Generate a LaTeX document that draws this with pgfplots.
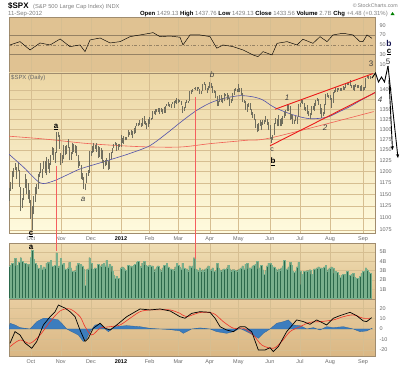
\documentclass[border=0pt]{standalone}
\usepackage{fontspec}
\setmainfont{Liberation Sans}
\usepackage{pgfplots}
\usepackage{pgfplotstable}
\pgfplotsset{compat=1.18}
\usetikzlibrary{arrows.meta}

\definecolor{gridc}{RGB}{214,190,145}
\definecolor{framec}{RGB}{160,140,110}
\definecolor{tickc}{RGB}{105,105,105}
\definecolor{barc}{RGB}{112,110,94}
\definecolor{volc}{RGB}{44,105,75}
\definecolor{volh}{RGB}{120,175,140}
\definecolor{mablue}{RGB}{80,80,170}
\definecolor{mared}{RGB}{240,95,85}
\definecolor{chred}{RGB}{235,25,25}
\definecolor{histc}{RGB}{60,125,190}
\definecolor{sigred}{RGB}{240,50,40}
\definecolor{rsibg}{RGB}{224,194,146}
\definecolor{pxtop}{RGB}{236,214,164}
\definecolor{pxbot}{RGB}{255,251,222}
\definecolor{voltop}{RGB}{240,222,180}
\definecolor{volbot}{RGB}{222,192,142}
\definecolor{mctop}{RGB}{232,205,160}
\definecolor{mcbot}{RGB}{218,183,132}
\definecolor{refl}{RGB}{150,130,100}
\definecolor{vred}{RGB}{245,95,95}

\pgfplotstableread{
i l h v
-15 1136 1163 3.5
-14 1158 1176 3.6
-13 1162 1202 3.8
-12 1189 1209 3.7
-11 1204 1220 4.3
-10 1183 1210 3.5
-9 1201 1220 3.6
-8 1166 1204 3.9
-7 1114 1166 4.4
-6 1121 1141 4.0
-5 1137 1163 3.6
-4 1163 1195 3.8
-3 1150 1184 3.5
-2 1139 1175 3.7
-1 1131 1160 3.4
0 1098 1138 4.4
1 1075 1125 5.2
2 1107 1146 4.2
3 1134 1165 3.8
4 1150 1172 3.6
5 1162 1195 3.3
6 1187 1200 3.2
7 1196 1220 3.6
8 1186 1205 3.2
9 1205 1225 3.4
10 1198 1224 3.3
11 1192 1233 3.8
12 1205 1230 3.9
13 1197 1219 3.7
14 1215 1239 4.1
15 1238 1256 3.5
16 1227 1254 3.4
17 1220 1246 3.6
18 1243 1293 4.9
19 1281 1292 3.4
20 1253 1285 3.5
21 1215 1242 4.3
22 1219 1238 3.7
23 1228 1263 3.8
24 1238 1260 3.2
25 1240 1262 3.0
26 1254 1277 3.3
27 1226 1258 3.9
28 1227 1246 3.3
29 1240 1266 2.9
30 1246 1264 2.8
31 1244 1262 3.0
32 1237 1259 3.5
33 1209 1238 3.8
34 1213 1224 3.6
35 1183 1215 3.7
36 1181 1196 3.5
37 1161 1187 3.2
38 1159 1172 1.4
39 1174 1197 3.1
40 1191 1203 3.2
41 1197 1247 4.4
42 1236 1248 3.8
43 1243 1260 3.2
44 1245 1267 3.1
45 1252 1262 3.3
46 1246 1267 3.1
47 1231 1260 3.7
48 1234 1258 3.3
49 1228 1255 3.5
50 1219 1249 3.7
51 1206 1226 3.8
52 1212 1226 3.5
53 1215 1232 4.1
54 1203 1224 3.4
55 1206 1242 3.7
56 1230 1245 3.5
57 1243 1255 2.9
58 1254 1265 2.5
59 1262 1270 2.2
60 1248 1266 2.4
61 1250 1264 2.2
62 1257 1264 2.0
63 1258 1285 3.3
64 1267 1279 3.4
65 1265 1284 3.3
66 1273 1282 3.1
67 1274 1282 3.0
68 1281 1297 3.6
69 1285 1294 3.4
70 1286 1297 3.5
71 1278 1296 3.3
72 1289 1304 3.6
73 1291 1309 3.7
74 1307 1315 3.9
75 1307 1315 4.0
76 1310 1322 3.5
77 1306 1316 3.4
78 1307 1328 3.8
79 1313 1333 4.0
80 1311 1320 3.6
81 1300 1316 3.3
82 1306 1325 3.5
83 1313 1330 3.6
84 1322 1329 3.5
85 1326 1346 3.5
86 1337 1345 3.0
87 1336 1351 3.2
88 1342 1351 3.4
89 1344 1354 3.5
90 1337 1352 3.2
91 1343 1353 3.0
92 1338 1351 3.3
93 1341 1356 3.6
94 1341 1359 3.5
95 1357 1364 3.8
96 1357 1368 3.4
97 1356 1363 3.2
98 1352 1364 3.2
99 1363 1368 3.0
100 1354 1371 3.1
101 1365 1373 3.4
102 1363 1378 3.8
103 1366 1377 3.6
104 1369 1374 3.4
105 1360 1370 3.2
106 1341 1359 3.8
107 1345 1355 3.3
108 1353 1368 3.2
109 1366 1374 3.2
110 1366 1372 3.0
111 1372 1396 3.5
112 1389 1399 3.4
113 1395 1403 3.5
114 1402 1406 4.4
115 1400 1409 3.2
116 1398 1408 3.1
117 1402 1407 3.0
118 1389 1402 3.3
119 1389 1398 3.0
120 1397 1417 3.1
121 1413 1420 3.0
122 1400 1415 3.2
123 1392 1404 3.3
124 1401 1410 3.5
125 1404 1420 3.0
126 1406 1419 3.1
127 1393 1410 3.3
128 1392 1401 2.9
129 1378 1397 3.0
130 1357 1383 3.8
131 1359 1370 3.3
132 1368 1388 3.1
133 1369 1387 3.0
134 1365 1380 3.1
135 1370 1392 3.2
136 1383 1390 3.0
137 1373 1391 3.3
138 1377 1387 3.6
139 1358 1378 3.2
140 1366 1376 3.0
141 1371 1391 3.1
142 1388 1402 3.1
143 1398 1406 3.0
144 1394 1403 3.0
145 1395 1415 3.1
146 1394 1404 3.2
147 1388 1404 3.3
148 1368 1392 3.5
149 1366 1374 3.2
150 1348 1370 3.7
151 1344 1363 3.8
152 1356 1366 3.2
153 1349 1365 3.3
154 1336 1351 3.3
155 1328 1344 3.5
156 1322 1338 3.6
157 1304 1326 3.7
158 1292 1312 4.0
159 1295 1316 3.2
160 1309 1323 3.3
161 1298 1319 3.6
162 1310 1324 3.1
163 1314 1322 2.6
164 1318 1334 3.0
165 1310 1326 3.5
166 1298 1319 3.8
167 1277 1310 3.8
168 1267 1282 3.6
169 1274 1286 3.3
170 1285 1316 3.4
171 1314 1329 3.2
172 1307 1326 3.0
173 1307 1335 3.2
174 1307 1325 3.1
175 1308 1327 3.3
176 1313 1333 3.5
177 1329 1343 4.1
178 1334 1348 3.0
179 1345 1364 3.2
180 1346 1361 3.4
181 1324 1357 3.9
182 1326 1337 3.6
183 1313 1335 2.9
184 1313 1324 2.8
185 1320 1334 2.9
186 1313 1330 3.4
187 1330 1363 3.9
188 1356 1366 3.0
189 1366 1375 1.5
190 1363 1373 2.6
191 1348 1367 2.9
192 1346 1355 2.8
193 1337 1362 3.0
194 1334 1346 3.0
195 1326 1341 3.1
196 1335 1358 2.6
197 1349 1357 2.6
198 1345 1365 3.2
199 1358 1375 3.2
200 1371 1380 3.3
201 1362 1376 3.4
202 1338 1363 3.3
203 1329 1352 3.3
204 1332 1344 3.2
205 1339 1363 3.4
206 1361 1390 3.6
207 1381 1392 3.0
208 1378 1388 3.2
209 1374 1387 3.3
210 1354 1378 3.4
211 1366 1395 3.3
212 1391 1399 2.7
213 1394 1407 2.9
214 1395 1405 2.8
215 1399 1405 2.5
216 1398 1406 2.3
217 1398 1405 2.5
218 1401 1410 2.6
219 1401 1407 2.5
220 1404 1418 2.6
221 1413 1419 2.9
222 1412 1418 2.1
223 1411 1426 2.5
224 1404 1414 2.6
225 1399 1413 2.7
226 1398 1413 2.3
227 1409 1416 1.9
228 1404 1413 2.2
229 1406 1414 2.1
230 1397 1410 2.4
231 1397 1414 2.7
232 1397 1409 2.9
233 1401 1408 2.8
234 1404 1433 3.3
235 1431 1438 3.1
236 1429 1438 2.8
237 1429 1438 2.7
}\daily

\pgfplotsset{
  panel/.style={
    scale only axis, width=366bp, xmin=-15.2, xmax=240.4, anchor=north west,
    axis line style={draw=framec, line width=0.4pt},
    major tick length=0pt,
    xtick={0,21,42,63,83,103,125,145,167,188,209,232},
    xticklabels={Oct,Nov,Dec,{\textcolor{black}{\textbf{2012}}},Feb,Mar,Apr,May,Jun,Jul,Aug,Sep},
    xmajorgrids, ymajorgrids,
    grid style={draw=gridc, line width=0.35pt},
    yticklabel pos=right,
    tick label style={font=\fontsize{5.5}{6}\selectfont, text=tickc},
    yticklabel style={xshift=1bp},
    /pgf/number format/assume math mode=true,
  },
}

\begin{document}
\begin{tikzpicture}
\useasboundingbox (0,0) rectangle (400bp,-365bp);

% RSI panel
\begin{axis}[panel, at={(9bp,-17bp)}, height=56bp, ymin=-7.8, ymax=107,
  ytick={10,30,50,70,90}, xticklabels={}, ymajorgrids=false,
  axis background/.style={fill=rsibg}]
\draw[refl, line width=0.5pt] (axis cs:-15.2,70) -- (axis cs:240.4,70);
\draw[refl, line width=0.5pt] (axis cs:-15.2,30) -- (axis cs:240.4,30);
\draw[refl, line width=0.4pt, dash dot] (axis cs:-15.2,50) -- (axis cs:240.4,50);
\addplot[black, line width=0.45pt] coordinates {
(-14.5,49.7) (-7.5,56.5) (-0.5,39.4) (6.5,53.8) (13.5,49.7) (20.5,62) (27.4,46.2)
(34.4,49.7) (37.9,36) (41.4,60) (48.4,64) (55.4,53.8) (62.3,56.5) (69.3,66.7)
(76.3,70.2) (83.3,73.7) (85.4,75) (90.3,66.7) (97.3,68) (104.2,65.5) (106.3,49.7)
(111.2,70.2) (118.2,70.2) (125.2,66.7) (129.9,43) (134.3,49.7) (141.3,46.2)
(148.2,39.4) (155.2,29.2) (158.7,25.7) (162.2,36) (168.5,29.2) (172,53) (179,56.5)
(185.9,49.7) (190.1,61.4) (197.1,53) (202,66.7) (206.9,56.5) (211.1,70.2) (218,73.7)
(225,70.2) (229.9,56.5) (232,56.5) (234.8,70.2) (238.3,63.3)};
\end{axis}

% Price panel
\begin{axis}[panel, at={(9bp,-73bp)}, height=160bp, ymode=log, ymin=1068.9, ymax=1445.7,
  ytick={1075,1100,1125,1150,1175,1200,1225,1250,1275,1300,1325,1350,1375,1400},
  yticklabels={1075,1100,1125,1150,1175,1200,1225,1250,1275,1300,1325,1350,{},1400},
  axis background/.style={shade, top color=pxtop, bottom color=pxbot}]
\addplot[mared, line width=0.6pt, smooth] coordinates {
(-15.2,1283) (10,1276) (41,1265) (76,1258) (104,1257) (125,1265) (150,1273) (169,1280) (239.5,1344)};
\addplot[mablue, line width=0.6pt, smooth] coordinates {
(-15.2,1240) (-5,1210) (6.5,1175) (15,1178) (25,1192) (34.4,1206) (48.4,1220) (60,1232)
(69.3,1242) (83,1260) (95,1290) (104.2,1316) (115,1345) (125.2,1366) (135,1378) (146,1385)
(155,1382) (162,1374) (170,1355) (183,1336) (195,1326) (207,1330) (215,1343) (223,1357)
(230,1372) (240.4,1393)};
\addplot[draw=none, mark=none, error bars/.cd, y dir=plus, y explicit,
  error mark=none, error bar style={draw=barc, line width=0.7pt}]
  table[x=i, y=l, y error expr=\thisrow{h}-\thisrow{l}] {\daily};
\addplot[chred, line width=0.9pt] coordinates {(170.6,1350) (239,1444)};
\addplot[chred, line width=0.9pt] coordinates {(167.1,1260) (240.4,1393)};
\end{axis}

% Volume panel
\begin{axis}[panel, at={(9bp,-243bp)}, height=56bp, ymin=-0.05, ymax=5.97,
  ytick={1,2,3,4,5}, yticklabels={1B,2B,3B,4B,5B}, xticklabels={},
  axis background/.style={shade, top color=voltop, bottom color=volbot}]
\addplot[ybar, bar width=1, fill=volc, draw=volh, line width=0.2pt] table[x=i, y=v] {\daily};
\end{axis}

% MACD panel
\begin{axis}[panel, at={(9bp,-299bp)}, height=57bp, ymin=-26, ymax=28.8,
  ytick={-20,-10,0,10,20},
  axis background/.style={shade, top color=mctop, bottom color=mcbot}]
\addplot[fill=histc, draw=histc!80!black, line width=0.3pt] coordinates {
(-15.2,0) (-14.5,5.5) (-11,3.8) (-7.5,1.3) (-4,0.6) (-0.5,0) (4.2,7) (8.8,10.3) (13.5,10.3)
(19.3,8.7) (21.6,5.5) (25.1,0) (28.6,-2.6) (33.2,-5.8) (36.7,-12) (39.1,-9) (41.4,-2.6)
(44.9,3.8) (48.4,4.5) (51.9,0) (54.2,-2.6) (58.9,2.2) (67,3.2) (76.3,2.2) (83.3,0.6)
(90.3,0) (97.3,-0.6) (104.2,-1.9) (106.5,-4.2) (112.4,0) (118.2,1) (125.2,0) (129.9,-2.6)
(136.8,-4.2) (141.5,-2.6) (146.1,0.6) (150.8,-2.6) (155.4,-5.8) (158.9,-9) (162.4,-4.2)
(167.1,0) (171.8,5.5) (176.4,7) (179.9,8.7) (183.3,3.8) (188,3.2) (192.8,0) (197.3,1.3)
(202,-1) (206.7,2.2) (211.3,1.3) (218.3,2.2) (225.2,0) (229.9,-2.6) (234.6,-1.9) (238.1,0.6) (238.5,0)} \closedcycle;
\addplot[sigred, line width=0.6pt, smooth] coordinates {
(-14.5,-17) (-7.5,-10.6) (-0.5,-13.8) (6.5,-5.8) (13.5,7) (20.5,17.3) (27.4,19.2) (34.4,11.8)
(37.9,2.2) (42.6,-5.8) (48.4,0.7) (55.4,2.2) (62.3,3.8) (69.3,10.3) (76.3,16.6) (83.3,18.3)
(90.3,18.3) (97.3,18.3) (104.2,15) (108.9,11.8) (118.2,15.8) (127.5,15) (134.5,7) (141.5,0.7)
(148.5,0.7) (155.4,-5.8) (161.3,-15.4) (169.4,-18.6) (175.2,-12.2) (181,-2.6) (188,2.2)
(195,6.4) (202,7) (211.3,8.7) (218.3,11.8) (225.2,13.5) (232.2,10.3) (236.9,10.3)};
\addplot[black, line width=0.7pt] coordinates {
(-14.5,-13.8) (-11,-2.6) (-7.5,-5.8) (-4,-13.5) (0.7,-18.6) (4.2,-12) (8.8,3.8) (13.5,11.8)
(17,16.6) (19.3,23) (24,20) (27.4,16.6) (30.9,11.8) (34.4,-1) (37.9,-12) (40.2,-9) (43.7,0.7)
(48.4,5.5) (51.9,0.7) (55.4,-1) (60,3.8) (67,11.8) (76.3,19.2) (83.3,18.3) (90.3,19.2)
(97.3,17.3) (104.2,11.8) (107.7,10.3) (112.4,15) (118.2,16.6) (125.2,16) (128.7,10.3)
(132.2,2.2) (136.8,-1) (141.5,-2.6) (146.1,2.2) (149.6,2.2) (154.3,-2.6) (158.9,-20.2)
(163.6,-20.2) (167.1,-18) (169.4,-21.8) (172.9,-17) (178.7,-2.6) (185.7,8.7) (190.3,7.1)
(195,4.5) (199.7,8.7) (206.7,3.8) (211.3,10.3) (215.9,12.8) (222.9,16) (227.6,12.8)
(232.2,7.7) (234.6,7.1) (238.1,10.9)};
\end{axis}

% annotations (pixel coordinates, y downward)
\begin{scope}[x=1bp, y=-1bp, every node/.style={inner sep=0pt}]
\draw[vred, line width=0.6pt] (56,166) -- (56,251);
\draw[vred, line width=0.6pt] (195,97) -- (195,259);
\draw[black, line width=0.9pt] (372,78) -- (375.5,73) -- (378.5,82) -- (381.5,77) -- (384.5,82) -- (388,66);
\draw[black, line width=0.9pt, -{Stealth[length=4pt,width=3.2pt]}] (388,66) -- (398,158);
\draw[black, line width=0.9pt, -{Stealth[length=4pt,width=3.2pt]}] (389,80) -- (392.5,150);
% titles
\node[anchor=base west, font=\fontsize{8}{9}\selectfont\bfseries] at (8,8) {\$SPX};
\node[anchor=base west, font=\fontsize{5.8}{6}\selectfont, text=gray] at (33,8) {(S\&P 500 Large Cap Index) INDX};
\node[anchor=base east, font=\fontsize{5.3}{6}\selectfont, text=gray] at (398,7) {\textcopyright\,StockCharts.com};
\node[anchor=base west, font=\fontsize{6}{7}\selectfont, text=gray] at (8,15.5) {11-Sep-2012};
\node[anchor=base east, font=\fontsize{6}{7}\selectfont, text=gray] at (388,15.5) {\textcolor{black}{\textbf{Open}} 1429.13 \textcolor{black}{\textbf{High}} 1437.76 \textcolor{black}{\textbf{Low}} 1429.13 \textcolor{black}{\textbf{Close}} 1433.56 \textcolor{black}{\textbf{Volume}} 2.7B \textcolor{black}{\textbf{Chg}} +4.48 (+0.31\%)};
\fill[green!50!black] (390.5,15) -- (394.5,15) -- (392.5,12) -- cycle;
\node[anchor=base west, font=\fontsize{6}{7}\selectfont, text=gray!80!black] at (11,79.5) {\$SPX (Daily)};
% wave labels
\node[font=\fontsize{8}{9}\selectfont\bfseries] at (56,127) {\underline{a}};
\node[font=\fontsize{8}{9}\selectfont\itshape, text=black!75] at (83,199) {a};
\node[font=\fontsize{8}{9}\selectfont\bfseries] at (31,234) {\underline{c}};
\node[font=\fontsize{8}{9}\selectfont\bfseries] at (31,247) {a};
\node[font=\fontsize{8}{9}\selectfont\itshape, text=black!75] at (212,75) {b};
\node[font=\fontsize{8}{9}\selectfont\itshape, text=black!75] at (287,98) {1};
\node[font=\fontsize{8}{9}\selectfont\itshape, text=black!75] at (325,128) {2};
\node[font=\fontsize{7}{8}\selectfont, text=black!75] at (272,150) {c};
\node[font=\fontsize{8}{9}\selectfont\bfseries] at (273,162) {\underline{b}};
\node[font=\fontsize{8}{9}\selectfont, text=black!75] at (371,64) {3};
\node[font=\fontsize{8}{9}\selectfont\itshape, text=black!75] at (380,100) {4};
\node[font=\fontsize{8}{9}\selectfont, text=black!80] at (388,62) {5};
\node[font=\fontsize{8.5}{9}\selectfont\bfseries, text={rgb,255:red,20;green,20;blue,80}] at (389,43) {b};
\node[font=\fontsize{8}{9}\selectfont\bfseries] at (389,52) {\underline{c}};
\end{scope}
\end{tikzpicture}
\end{document}
